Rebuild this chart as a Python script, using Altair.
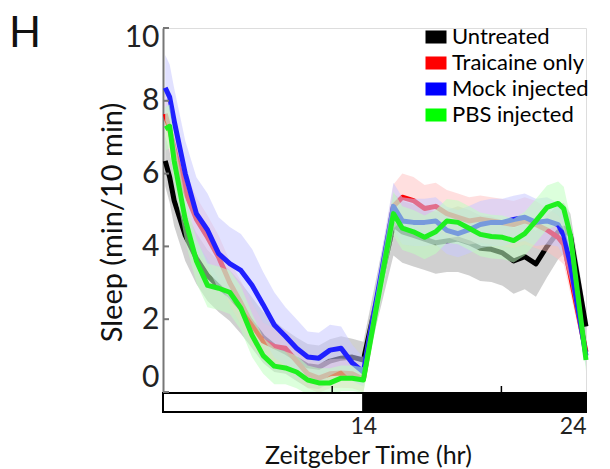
import altair as alt
import pandas as pd

# ---- data ----
hours = [5.1, 5.3, 5.5, 6.0, 6.5, 7.0, 7.5, 8.0, 8.5, 9.0, 9.5, 10.0, 10.5, 11.0, 11.5,
         12.0, 12.5, 13.0, 13.5, 14.0, 15.35, 15.75, 16.25, 16.75, 17.25, 17.75, 18.25,
         18.75, 19.25, 19.75, 20.25, 20.75, 21.25, 21.75, 22.25, 22.75, 23.0, 23.3, 24.0]

untreated = [6.35, 5.9, 5.26, 4.3, 3.67, 3.2, 2.9, 2.65, 2.3, 1.9, 1.5, 1.25, 1.1, 0.9, 0.72,
             0.68, 0.85, 0.93, 0.96, 0.88, 4.6, 4.4, 4.3, 4.2, 4.1, 4.15, 4.2,
             4.1, 3.95, 3.92, 3.82, 3.6, 3.72, 3.52, 4.0, 4.4, 4.5, 4.3, 1.8]
untreated_err = [0.7, 0.7, 0.7, 0.7, 0.7, 0.7, 0.7, 0.7, 0.7, 0.7, 0.7, 0.7, 0.6, 0.6, 0.6,
                 0.6, 0.6, 0.6, 0.5, 0.5, 0.85, 0.85, 0.85, 0.85, 0.85, 0.85, 0.9,
                 0.9, 0.9, 0.9, 0.9, 0.9, 0.9, 0.9, 0.85, 0.75, 0.7, 0.6, 0.4]

traicaine = [7.64, 7.2, 6.7, 5.5, 4.75, 4.25, 3.7, 3.0, 2.45, 1.85, 1.4, 1.25, 1.2, 0.85, 0.5,
             0.38, 0.5, 0.52, 0.5, 0.35, 5.1, 5.35, 5.26, 5.04, 5.1, 4.9, 4.8,
             4.7, 4.75, 4.7, 4.65, 4.6, 4.7, 4.6, 4.45, 4.25, 4.05, 3.2, 1.1]
traicaine_err = [0.6, 0.6, 0.6, 0.6, 0.6, 0.6, 0.6, 0.6, 0.6, 0.6, 0.5, 0.5, 0.5, 0.5, 0.4,
                 0.4, 0.4, 0.4, 0.4, 0.35, 0.6, 0.65, 0.65, 0.65, 0.65, 0.65, 0.65,
                 0.65, 0.65, 0.65, 0.65, 0.65, 0.65, 0.65, 0.6, 0.6, 0.55, 0.5, 0.3]

mock = [8.36, 8.1, 7.45, 6.0, 4.9, 4.45, 3.8, 3.53, 3.34, 2.93, 2.4, 1.84, 1.53, 1.2, 0.96,
        0.93, 1.15, 1.2, 0.8, 0.55, 5.1, 4.7, 4.66, 4.66, 4.7, 4.44, 4.35,
        4.46, 4.6, 4.66, 4.66, 4.74, 4.8, 4.66, 4.7, 4.6, 4.3, 3.5, 1.0]
mock_err = [0.9, 0.9, 0.9, 0.9, 1.0, 1.0, 1.0, 1.0, 1.0, 1.0, 0.9, 0.9, 0.8, 0.8, 0.7,
            0.7, 0.7, 0.6, 0.5, 0.4, 0.65, 0.65, 0.65, 0.65, 0.65, 0.65, 0.65,
            0.65, 0.65, 0.65, 0.65, 0.65, 0.65, 0.65, 0.65, 0.6, 0.6, 0.5, 0.3]

pbs = [7.23, 7.3, 6.35, 4.74, 3.6, 2.93, 2.85, 2.74, 2.3, 1.56, 1.0, 0.71, 0.66, 0.55, 0.33,
       0.25, 0.25, 0.38, 0.38, 0.33, 4.9, 4.5, 4.4, 4.25, 4.4, 4.7, 4.66,
       4.5, 4.33, 4.27, 4.25, 4.16, 4.35, 4.7, 5.07, 5.18, 5.04, 4.3, 0.88]
pbs_err = [0.6, 0.6, 0.6, 0.6, 0.6, 0.6, 0.6, 0.6, 0.6, 0.6, 0.5, 0.5, 0.45, 0.45, 0.4,
           0.4, 0.4, 0.35, 0.35, 0.35, 0.6, 0.6, 0.6, 0.6, 0.6, 0.6, 0.6,
           0.6, 0.6, 0.6, 0.6, 0.6, 0.6, 0.6, 0.6, 0.6, 0.6, 0.5, 0.3]

series_names = ["Untreated", "Traicaine only", "Mock injected", "PBS injected"]
series_vals = [untreated, traicaine, mock, pbs]
series_errs = [untreated_err, traicaine_err, mock_err, pbs_err]
legend_colors = ["#000000", "#ff0000", "#0000ff", "#00ff00"]
line_colors = ["#000000", "#ff0000", "#2020ff", "#1ff01f"]
band_colors = ["#aaaaaa", "#ffc0c0", "#c8c8ff", "#c0ffc0"]
band_opacity = [0.55, 0.5, 0.55, 0.55]

y_tick_values = [0, 2, 4, 6, 8, 10]
x_label_values = [14, 24]
x_minor_ticks = [12.6, 20.2]
phase_start = [5, 14]
phase_end = [14, 24]
phase_name = ["light", "dark"]

FONT = "Lato"

xscale = alt.Scale(domain=[5, 24], nice=False, zero=False)
yscale = alt.Scale(domain=[0, 10], nice=False)

x_axis = alt.Axis(values=x_label_values, format="d", title="Zeitgeber Time (hr)",
                  domain=False, ticks=False, tickSize=0, grid=False,
                  labelPadding=23, labelFontSize=23, labelColor="#222222", labelFont=FONT,
                  titleFontSize=25, titleFontWeight="normal", titleColor="#111111",
                  titleFont=FONT, titleX=205, titleY=63, titleBaseline="middle")
y_axis = alt.Axis(values=y_tick_values, format="d", title="Sleep (min/10 min)",
                  ticks=False, tickSize=0, grid=False, domainColor="#777777", domainWidth=2,
                  labelPadding=4, labelFontSize=30, labelColor="#222222", labelFont=FONT,
                  labelFlush=True,
                  labelOffset={"condition": {"test": "datum.value == 10", "value": -6}, "value": 0},
                  titleFontSize=29, titleFontWeight="normal", titleColor="#111111",
                  titleFont=FONT, titleX=-51, titleY=194, titleBaseline="middle")

X = lambda f: alt.X(f, type="quantitative", scale=xscale, axis=x_axis)
Y = lambda f: alt.Y(f, type="quantitative", scale=yscale, axis=y_axis)

layers = []
for name, vals, errs, bc, op, lc in zip(series_names, series_vals, series_errs,
                                        band_colors, band_opacity, line_colors):
    df = pd.DataFrame({
        "t": hours,
        "v": vals,
        "lo": [v - e for v, e in zip(vals, errs)],
        "hi": [v + e for v, e in zip(vals, errs)],
    })
    band = alt.Chart(df).mark_area(opacity=op, color=bc).encode(
        x=X("t"), y=Y("lo"), y2="hi")
    line = alt.Chart(df).mark_line(strokeWidth=5, strokeJoin="round", color=lc).encode(
        x=X("t"), y=Y("v"))
    layers += [band, line]

# legend carrier (invisible marks; the legend itself is drawn by Vega-Lite)
legend_df = pd.DataFrame({"series": series_names})
legend_layer = alt.Chart(legend_df).mark_square(opacity=0).encode(
    x=alt.value(0), y=alt.value(0),
    color=alt.Color("series:N",
                    scale=alt.Scale(domain=series_names, range=legend_colors),
                    legend=alt.Legend(orient="none", legendX=262, legendY=-2, title=None,
                                      symbolType="M-1,-0.62H1V0.62H-1Z", symbolSize=441,
                                      symbolOpacity=1, symbolStrokeWidth=0,
                                      labelFontSize=22, labelColor="#000000", labelFont=FONT,
                                      rowPadding=4, labelOffset=5, labelLimit=300)))

phase_df = pd.DataFrame({"start": phase_start, "end": phase_end, "phase": phase_name})
bar = alt.Chart(phase_df).mark_rect(stroke="black", strokeWidth=2).encode(
    x=X("start"), x2="end",
    y=alt.value(365), y2=alt.value(384),
    fill=alt.Fill("phase:N", scale=alt.Scale(domain=["light", "dark"], range=["white", "black"]),
                  legend=None))

ytick_df = pd.DataFrame({"y": y_tick_values})
yticks = alt.Chart(ytick_df).mark_rule(color="#777777", strokeWidth=2).encode(
    y=Y("y"), x=alt.value(0), x2=alt.value(6))

xtick_df = pd.DataFrame({"x": x_minor_ticks})
xticks = alt.Chart(xtick_df).mark_rule(color="#000000", strokeWidth=1.5).encode(
    x=X("x"), y=alt.value(364), y2=alt.value(358))

chart = alt.layer(*layers, bar, yticks, xticks, legend_layer).properties(
    width=423, height=364,
    autosize=alt.AutoSizeParams(type="none"),
    padding={"left": 163, "top": 28, "right": 24, "bottom": 77},
    title=alt.Title("H", anchor="start", fontSize=42, fontWeight="normal", font=FONT,
                    color="#111111", dx=-154, dy=34, offset=0, frame="group"),
).configure_view(stroke=None).configure(font=FONT)

chart.save("out.html", embed_options={"renderer": "svg", "actions": False})
